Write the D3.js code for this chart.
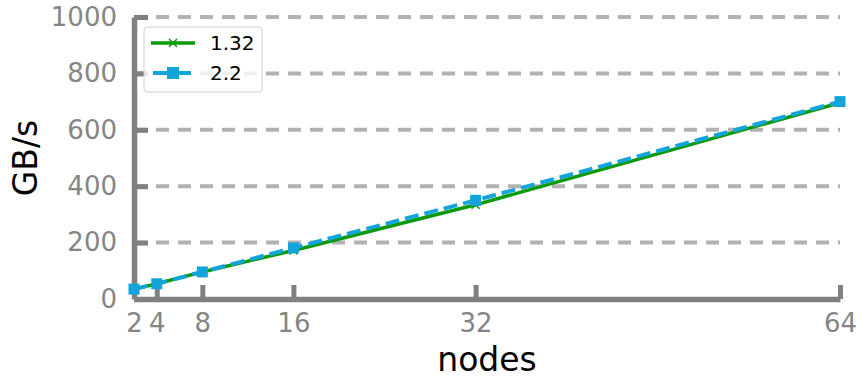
<!DOCTYPE html>
<html>
<head>
<meta charset="utf-8">
<script src="https://cdn.jsdelivr.net/npm/d3@7"></script>
<style>
  body { margin: 0; background: #fff; }
  text { font-family: "DejaVu Sans", sans-serif; }
</style>
</head>
<body>
<div id="chart"></div>
<script>
// Data
const nodes = [2, 4, 8, 16, 32, 64];
const v132 = [35, 54, 96, 172, 334, 696];
const v22 = [35, 54, 96, 181, 350, 700];
const yTicks = [0, 200, 400, 600, 800, 1000];

const WIDTH = 861;
const HEIGHT = 378;
const margin = { left: 134, right: 21, top: 17, bottom: 79 };

const svg = d3.select("#chart").append("svg")
  .attr("width", WIDTH)
  .attr("height", HEIGHT);

const x = d3.scaleLinear().domain([2, 64]).range([margin.left, WIDTH - margin.right]);
const y = d3.scaleLinear().domain([0, 1000]).range([HEIGHT - margin.bottom, margin.top]);

const axisColor = "#808080";
const labelColor = "#858585";

// Grid lines
svg.append("g")
  .selectAll("line")
  .data(yTicks.filter((d) => d > 0))
  .enter()
  .append("line")
  .attr("x1", x(2))
  .attr("x2", x(64))
  .attr("y1", (d) => y(d))
  .attr("y2", (d) => y(d))
  .attr("stroke", "#b2b2b2")
  .attr("stroke-width", 4)
  .attr("stroke-dasharray", "13,9");

// Y axis
const yAxis = svg.append("g")
  .attr("transform", `translate(${x(2)},0)`)
  .call(d3.axisLeft(y).tickValues(yTicks).tickFormat(d3.format("d"))
    .tickSizeInner(-14).tickSizeOuter(0).tickPadding(17));
yAxis.select(".domain").attr("stroke", axisColor).attr("stroke-width", 5.5);
yAxis.selectAll(".tick line").attr("stroke", axisColor).attr("stroke-width", 5);
yAxis.selectAll(".tick text").attr("fill", labelColor)
  .style("font-family", "DejaVu Sans").style("font-size", "26px");

// X axis
const xAxis = svg.append("g")
  .attr("transform", `translate(0,${y(0)})`)
  .call(d3.axisBottom(x).tickValues(nodes).tickSizeInner(-14).tickSizeOuter(0).tickPadding(15));
xAxis.select(".domain").attr("stroke", axisColor).attr("stroke-width", 5.5);
xAxis.selectAll(".tick line").attr("stroke", axisColor).attr("stroke-width", 5);
xAxis.selectAll(".tick text").attr("fill", labelColor)
  .style("font-family", "DejaVu Sans").style("font-size", "26px");

// Axis labels
svg.append("text")
  .attr("transform", `translate(37,${(y(0) + y(1000)) / 2}) rotate(-90)`)
  .attr("text-anchor", "middle")
  .style("font-size", "33px")
  .text("GB/s");

svg.append("text")
  .attr("x", (x(2) + x(64)) / 2)
  .attr("y", 371)
  .attr("text-anchor", "middle")
  .style("font-size", "33px")
  .text("nodes");

const green = "#0a9a0a";
const blue = "#14a4dc";

const line = d3.line().x((d) => x(d[0])).y((d) => y(d[1]));

// Series 1.32
svg.append("path")
  .datum(d3.zip(nodes, v132))
  .attr("d", line)
  .attr("fill", "none")
  .attr("stroke", green)
  .attr("stroke-width", 3.5);

const xMark = (g, size) => g.append("path")
  .attr("d", `M${-size},${-size}L${size},${size}M${-size},${size}L${size},${-size}`)
  .attr("stroke", green)
  .attr("stroke-width", 1.5);

svg.append("g")
  .selectAll("g")
  .data(d3.zip(nodes, v132))
  .enter()
  .append("g")
  .attr("transform", (d) => `translate(${x(d[0])},${y(d[1])})`)
  .each(function () { xMark(d3.select(this), 4); });

// Series 2.2
svg.append("path")
  .datum(d3.zip(nodes, v22))
  .attr("d", line)
  .attr("fill", "none")
  .attr("stroke", blue)
  .attr("stroke-width", 4)
  .attr("stroke-dasharray", "14,6");

svg.append("g")
  .selectAll("rect")
  .data(d3.zip(nodes, v22))
  .enter()
  .append("rect")
  .attr("x", (d) => x(d[0]) - 5.5)
  .attr("y", (d) => y(d[1]) - 5.5)
  .attr("width", 11)
  .attr("height", 11)
  .attr("fill", blue);

// Legend
const legend = svg.append("g").attr("transform", "translate(144,27)");
legend.append("rect")
  .attr("width", 118)
  .attr("height", 65)
  .attr("rx", 3)
  .attr("fill", "#fff")
  .attr("fill-opacity", 0.8)
  .attr("stroke", "#d0d0d0")
  .attr("stroke-width", 1);

const legendItems = [
  { name: "1.32", color: green },
  { name: "2.2", color: blue }
];

legendItems.forEach((item, i) => {
  const g = legend.append("g").attr("transform", `translate(0,${16 + i * 30})`);
  g.append("line")
    .attr("x1", i === 0 ? 7 : 9)
    .attr("x2", i === 0 ? 51 : 47)
    .attr("stroke", item.color)
    .attr("stroke-width", i === 0 ? 3.5 : 4);
  if (i === 0) {
    const m = g.append("g").attr("transform", "translate(29,0)");
    xMark(m, 4);
  } else {
    g.append("rect").attr("x", 23).attr("y", -6).attr("width", 12).attr("height", 12).attr("fill", item.color);
  }
  g.append("text")
    .attr("x", 66)
    .attr("y", 7)
    .style("font-size", "20px")
    .text(item.name);
});
</script>
</body>
</html>
